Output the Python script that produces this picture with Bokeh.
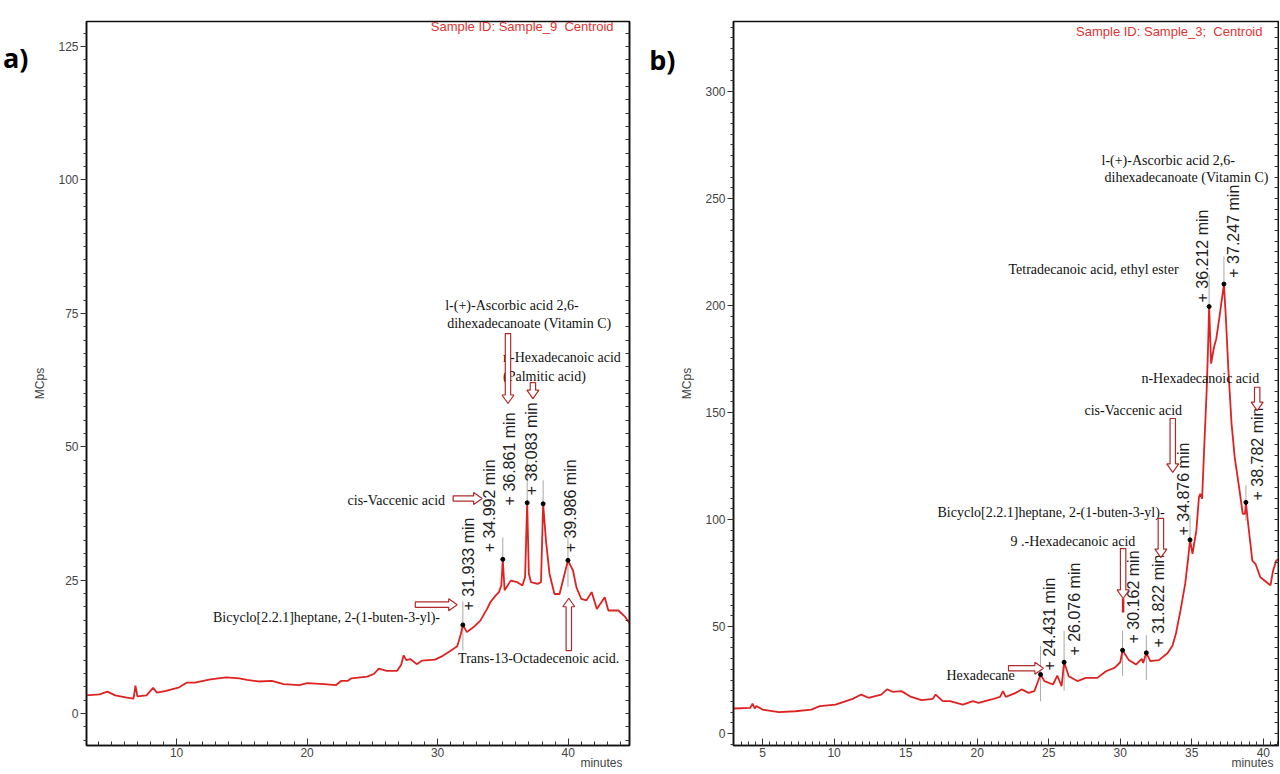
import numpy as np
from bokeh.plotting import figure
from bokeh.models import Range1d, LinearAxis, FixedTicker
from bokeh.layouts import row
from bokeh.embed import file_html
from bokeh.resources import INLINE
from bokeh.core.properties import value

# ---------------- data: panel a) Sample_9 ----------------
a_time = [3.0, 4.1, 4.7, 5.3, 6.1, 6.7, 6.85, 7.0, 7.7, 8.2, 8.5, 9.2, 10.2, 10.8, 11.4,
          12.6, 13.8, 14.8, 15.4, 16.3, 17.3, 18.2, 19.4, 20.0, 21.3, 22.2, 22.6, 23.1,
          23.4, 24.6, 25.1, 25.5, 26.1, 26.9, 27.2, 27.4, 27.6, 27.9, 28.4, 28.8, 29.8,
          30.4, 31.0, 31.5, 31.75, 31.933, 32.24, 32.76, 33.27, 33.79, 34.05, 34.44,
          34.7, 34.88, 34.992, 35.13, 35.6, 36.1, 36.5, 36.7, 36.861, 36.99, 37.15,
          37.66, 37.92, 38.083, 38.3, 38.57, 38.95, 39.34, 39.73, 39.986, 40.37, 40.63,
          41.0, 41.4, 41.8, 42.2, 42.8, 43.08, 43.85, 44.37, 44.9]
a_mcps = [3.4, 3.6, 4.1, 3.4, 3.0, 2.8, 5.2, 3.2, 3.4, 4.8, 3.9, 4.25, 4.9, 5.8, 5.8,
          6.4, 6.75, 6.6, 6.3, 6.0, 6.1, 5.5, 5.3, 5.7, 5.5, 5.3, 6.1, 6.1,
          6.6, 6.9, 7.4, 8.4, 8.0, 8.0, 9.1, 10.9, 10.0, 10.2, 9.25, 9.9, 10.1,
          10.8, 11.75, 12.6, 14.6, 16.6, 15.25, 16.2, 17.4, 19.6, 20.9, 22.1,
          22.75, 24.0, 28.9, 23.1, 24.9, 24.6, 24.0, 25.6, 39.5, 26.2, 24.6,
          24.3, 24.6, 39.3, 32.4, 26.2, 22.4, 22.4, 26.2, 28.7, 26.8, 23.7,
          21.5, 21.2, 22.75, 19.6, 21.8, 19.3, 19.3, 18.1, 16.2]
a_peak_times = [31.933, 34.992, 36.861, 38.083, 39.986]
a_peak_labels = ["+ 31.933 min", "+ 34.992 min", "+ 36.861 min", "+ 38.083 min", "+ 39.986 min"]
a_compounds = ["l-(+)-Ascorbic acid 2,6-", "dihexadecanoate (Vitamin C)", "n-Hexadecanoic acid",
               "(Palmitic acid)", "cis-Vaccenic acid", "Bicyclo[2.2.1]heptane, 2-(1-buten-3-yl)-",
               "Trans-13-Octadecenoic acid."]
a_xticks = [10, 20, 30, 40]
a_yticks = [0, 25, 50, 75, 100, 125]

# ---------------- data: panel b) Sample_3 ----------------
b_time = [3.0, 4.14, 4.3, 4.45, 4.57, 5.0, 6.14, 7.3, 8.4, 9.0, 10.1, 11.3, 11.9, 12.4,
          13.3, 13.7, 14.1, 14.7, 15.3, 16.1, 16.9, 17.1, 17.6, 18.1, 19.0, 19.7, 20.1,
          21.0, 21.6, 21.8, 22.0, 22.7, 23.1, 23.6, 24.0, 24.431, 24.7, 25.3, 25.6, 25.9,
          26.076, 26.4, 27.0, 27.6, 28.4, 29.0, 29.6, 30.0, 30.162, 30.6, 31.1, 31.5,
          31.6, 31.822, 32.1, 32.7, 33.3, 33.65, 33.9, 34.21, 34.54, 34.76, 34.876,
          35.05, 35.32, 35.5, 35.59, 35.72, 35.88, 36.04, 36.13, 36.212, 36.35, 36.55,
          36.71, 36.93, 37.247, 37.38, 37.56, 37.78, 38.0, 38.34, 38.56, 38.72, 38.782,
          38.94, 39.23, 39.45, 39.79, 40.23, 40.5, 40.68, 40.9, 41.2]
b_mcps = [11.7, 12.0, 14.0, 11.7, 12.8, 11.2, 10.0, 10.4, 11.2, 12.8, 13.5, 16.2, 18.2, 16.7,
          18.2, 20.6, 19.5, 19.8, 17.4, 15.6, 16.2, 18.2, 15.1, 15.1, 13.5, 15.1, 14.3,
          15.9, 17.1, 19.8, 17.1, 19.0, 20.6, 19.0, 19.8, 27.6, 24.5, 22.9, 27.1, 22.1,
          33.3, 26.8, 24.5, 26.0, 26.0, 29.1, 30.7, 33.3, 38.9, 34.3, 32.2, 34.9,
          33.0, 37.7, 33.8, 34.3, 37.5, 41.0, 47.0, 57.5, 70.0, 82.7, 90.5,
          84.0, 94.9, 110.4, 112.0, 109.7, 135.4, 160.3, 179.0, 199.5, 172.8, 180.5,
          184.4, 194.5, 210.0, 194.5, 169.6, 144.7, 129.0, 113.5, 102.6, 102.6, 108.0,
          97.9, 80.8, 79.3, 73.0, 70.7, 69.2, 76.1, 80.8, 82.0]
b_peak_times = [24.431, 26.076, 30.162, 31.822, 34.876, 36.212, 37.247, 38.782]
b_peak_labels = ["+ 24.431 min", "+ 26.076 min", "+ 30.162 min", "+ 31.822 min",
                 "+ 34.876 min", "+ 36.212 min", "+ 37.247 min", "+ 38.782 min"]
b_compounds = ["l-(+)-Ascorbic acid 2,6-", "dihexadecanoate (Vitamin C)",
               "Tetradecanoic acid, ethyl ester", "n-Hexadecanoic acid", "cis-Vaccenic acid",
               "Bicyclo[2.2.1]heptane, 2-(1-buten-3-yl)-", "9 .-Hexadecanoic acid", "Hexadecane"]
b_xticks = [5, 10, 15, 20, 25, 30, 35, 40]
b_yticks = [0, 50, 100, 150, 200, 250, 300]

# ---------------- annotation layout (data units) ----------------
a_comp_x = [30.58, 30.73, 35.01, 35.01, 23.1, 12.79, 31.57]
a_comp_y = [76.5, 73.1, 66.7, 63.2, 39.9, 18.0, 10.3]
a_lab_x = [32.34, 33.94, 35.54, 37.22, 40.2]
a_lab_y = [19.3, 30.2, 39.0, 40.9, 30.2]
a_tick_lo = [11.8, 28.9, 39.5, 39.3, 23.7]
a_tick_hi = [21.0, 33.0, 47.7, 43.7, 33.0]
a_arrows = [(31.19, 40.3, 33.41, 40.3), (28.29, 20.4, 31.5, 20.4), (40.05, 11.8, 40.05, 21.6),
            (35.39, 71.2, 35.39, 58.1), (37.30, 62.0, 37.30, 59.0)]

b_comp_x = [28.69, 28.9, 22.19, 31.48, 27.5, 17.23, 22.33, 17.85]
b_comp_y = [267.8, 259.8, 216.8, 165.9, 150.9, 103.3, 89.7, 27.1]
b_lab_x = [25.05, 26.8, 30.92, 32.67, 34.42, 35.75, 37.92, 39.6]
b_lab_y = [29.4, 36.4, 42.1, 40.2, 92.5, 201.4, 213.0, 108.9]
b_tick_lo = [15, 20, 27, 25, 88, 199.5, 210, 99.5]
b_tick_hi = [41, 48, 48, 46, 102, 214, 223, 116]
b_arrows = [(22.19, 30.5, 24.63, 30.5), (30.2, 86.4, 30.2, 63.1), (32.84, 100.5, 32.84, 82.2),
            (33.67, 147.2, 33.67, 122.0), (39.57, 161.8, 39.57, 150.9)]
b_extra_line = (30.2, 63.1, 30.2, 56.5)

RED = "#de2222"
SANS = "Liberation Sans"
SERIF = "Liberation Serif"
HEIGHT = 774
TOP, BOTTOM = 21, 29


def block_arrow(x0, y0, x1, y1, sx, sy, shaft=2.7, head_w=6.0, head_l=8.5):
    X0, Y0, X1, Y1 = x0 * sx, y0 * sy, x1 * sx, y1 * sy
    L = np.hypot(X1 - X0, Y1 - Y0)
    ux, uy = (X1 - X0) / L, (Y1 - Y0) / L
    nx, ny = -uy, ux
    hb = L - head_l
    pts = [(0, shaft), (hb, shaft), (hb, head_w), (L, 0), (hb, -head_w), (hb, -shaft), (0, -shaft)]
    xs = [(X0 + a * ux + b * nx) / sx for a, b in pts]
    ys = [(Y0 + a * uy + b * ny) / sy for a, b in pts]
    return xs, ys


def text_axis(p, where, tick, text, font, size, style, standoff):
    ax = LinearAxis(ticker=FixedTicker(ticks=[tick], minor_ticks=[]),
                    major_label_overrides={tick: text},
                    axis_line_color=None, major_tick_line_color=None, minor_tick_line_color=None,
                    major_tick_in=0, major_tick_out=0, minor_tick_in=0, minor_tick_out=0,
                    major_label_standoff=standoff, major_label_text_font=font,
                    major_label_text_font_size=size, major_label_text_font_style=style,
                    major_label_text_color="black" if style == "bold" else "#444444")
    p.add_layout(ax, where)


def make_panel(xr, yr, width, left, right, xticks, xminor, yticks, yminor):
    p = figure(width=width, height=HEIGHT, x_range=Range1d(*xr), y_range=Range1d(*yr),
               output_backend="svg", toolbar_location=None,
               min_border_left=left, min_border_right=right,
               min_border_top=TOP, min_border_bottom=BOTTOM)
    p.grid.visible = False
    p.outline_line_color = "#111111"
    p.outline_line_width = 1.6
    p.xaxis.ticker = FixedTicker(ticks=xticks, minor_ticks=xminor)
    p.yaxis.ticker = FixedTicker(ticks=yticks, minor_ticks=yminor)
    for ax in (p.xaxis[0], p.yaxis[0]):
        ax.axis_line_color = "#111111"
        ax.axis_line_width = 1.5
        ax.major_tick_line_color = "#333333"
        ax.minor_tick_line_color = "#333333"
        ax.major_label_text_font = SANS
        ax.major_label_text_font_size = "12px"
        ax.major_label_text_color = "#444444"
        ax.major_label_standoff = 2
    p.xaxis.major_tick_in = 7
    p.xaxis.major_tick_out = 0
    p.xaxis.minor_tick_in = 4
    p.xaxis.minor_tick_out = 0
    p.yaxis.major_tick_in = 0
    p.yaxis.major_tick_out = 6
    p.yaxis.minor_tick_in = 0
    p.yaxis.minor_tick_out = 3
    p.yaxis.axis_label = "MCps"
    p.yaxis.axis_label_text_font = SANS
    p.yaxis.axis_label_text_font_size = "12px"
    p.yaxis.axis_label_text_font_style = "normal"
    p.yaxis.axis_label_text_color = "#444444"
    p.yaxis.axis_label_standoff = 8
    # right frame ticks (no labels)
    ra = LinearAxis(ticker=FixedTicker(ticks=[], minor_ticks=sorted(set(list(yminor) + list(yticks)))),
                    major_tick_in=0, major_tick_out=0, minor_tick_in=4, minor_tick_out=0,
                    axis_line_color="#111111", axis_line_width=1.5,
                    minor_tick_line_color="#333333")
    p.add_layout(ra, "right")
    return p


def decorate(p, time, mcps, peak_times, peak_labels, lab_x, lab_y, lo, hi,
             comps, cx, cy, arrows, sx, sy):
    peak_vals = list(np.interp(peak_times, time, mcps))
    p.segment(x0=peak_times, y0=lo, x1=peak_times, y1=hi, line_color="#a8a8a8", line_width=1)
    p.line(time, mcps, line_color=RED, line_width=1.8)
    p.scatter(peak_times, peak_vals, size=4, color="black")
    p.text(x=lab_x, y=lab_y, text=peak_labels, angle=np.pi / 2, text_align="left",
           text_baseline="middle", text_font=value(SANS), text_font_size=value("16px"),
           text_color="#222222")
    p.text(x=cx, y=cy, text=comps, text_align="left", text_baseline="middle",
           text_font=value(SERIF), text_font_size=value("14px"), text_color="#111111")
    xs, ys = [], []
    for (x0, y0, x1, y1) in arrows:
        ax_, ay_ = block_arrow(x0, y0, x1, y1, sx, sy)
        xs.append(ax_)
        ys.append(ay_)
    p.patches(xs, ys, fill_color="white", line_color="#b02a2a", line_width=1.2)


FRAME_H = HEIGHT - TOP - BOTTOM

# ---------------- panel a ----------------
a_xr = (3.1, 44.7)
a_yr = (-6.0, 129.7)
pa = make_panel(a_xr, a_yr, 632, 85, 3, a_xticks, list(range(4, 45)),
                a_yticks, [v * 2.5 for v in range(-2, 52)])
a_sx = 544 / (a_xr[1] - a_xr[0])
a_sy = FRAME_H / (a_yr[1] - a_yr[0])
decorate(pa, a_time, a_mcps, a_peak_times, a_peak_labels, a_lab_x, a_lab_y, a_tick_lo, a_tick_hi,
         a_compounds, a_comp_x, a_comp_y, a_arrows, a_sx, a_sy)
pa.text(x=[43.48], y=[128.7], text=["Sample ID: Sample_9\u00a0 Centroid"], text_align="right",
        text_baseline="middle", text_font=value(SANS), text_font_size=value("13px"),
        text_color="#e03333")
text_axis(pa, "left", 123, "a)", "Open Sans", "27px", "bold", 2)
text_axis(pa, "below", 42.55, "minutes", SANS, "12px", "normal", -4)

# ---------------- panel b ----------------
b_xr = (2.97, 41.06)
b_yr = (-5.6, 332.7)
pb = make_panel(b_xr, b_yr, 647, 101, 1, b_xticks, [v * 0.5 for v in range(5, 83)],
                b_yticks, list(range(-5, 335, 5)))
b_sx = 545 / (b_xr[1] - b_xr[0])
b_sy = FRAME_H / (b_yr[1] - b_yr[0])
decorate(pb, b_time, b_mcps, b_peak_times, b_peak_labels, b_lab_x, b_lab_y, b_tick_lo, b_tick_hi,
         b_compounds, b_comp_x, b_comp_y, b_arrows, b_sx, b_sy)
pb.segment(x0=[b_extra_line[0]], y0=[b_extra_line[1]], x1=[b_extra_line[2]], y1=[b_extra_line[3]],
           line_color="#d42020", line_width=2.5)
pb.text(x=[39.94], y=[328.0], text=["Sample ID: Sample_3;\u00a0 Centroid"], text_align="right",
        text_baseline="middle", text_font=value(SANS), text_font_size=value("13px"),
        text_color="#e03333")
text_axis(pb, "left", 315, "b)", "Open Sans", "27px", "bold", 2)
text_axis(pb, "below", 39.24, "minutes", SANS, "12px", "normal", -4)

layout = row(pa, pb)
open("out.html", "w").write(file_html(layout, INLINE))
